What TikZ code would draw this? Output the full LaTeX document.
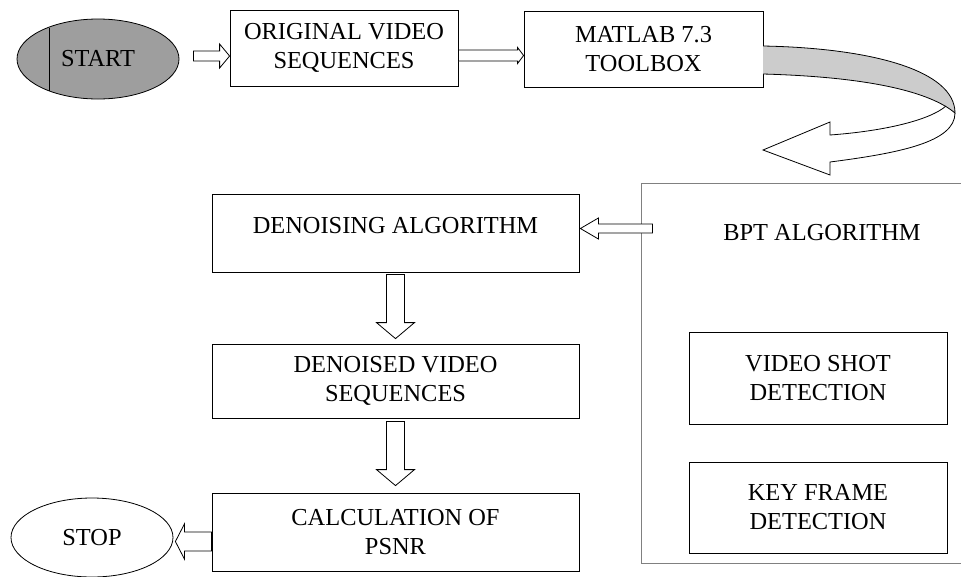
\documentclass[tikz,border=0pt]{standalone}
\usepackage{fontspec}
\setmainfont{Liberation Serif}
\usepackage{tikz}
\usetikzlibrary{calc,shapes.geometric}

\newcommand{\flowfont}{\fontsize{24.4}{29}\selectfont}
\tikzset{
  flowbox/.style={draw, line width=0.8pt, align=center, font=\flowfont, inner sep=2pt},
  termnode/.style={draw, ellipse, line width=0.8pt, font=\flowfont, minimum width=162pt, minimum height=80pt, inner sep=0pt},
  hollow/.style={draw, fill=white, line width=0.8pt, line join=miter},
}

% hollow block arrow: from, to, half shaft, half head, head length
\newcommand{\hollowarrow}[5]{%
  \path (#1) coordinate (ha-s) (#2) coordinate (ha-e);
  \path ($(ha-e)!#5!(ha-s)$) coordinate (ha-b);
  \draw[hollow] ($(ha-s)!#3!90:(ha-e)$) -- ($(ha-b)!#3!90:(ha-e)$)
    -- ($(ha-b)!#4!90:(ha-e)$) -- (ha-e) -- ($(ha-b)!#4!-90:(ha-e)$)
    -- ($(ha-b)!#3!-90:(ha-e)$) -- ($(ha-s)!#3!-90:(ha-e)$) -- cycle;
}

\begin{document}
\begin{tikzpicture}[x=1pt,y=-1pt]
    \useasboundingbox (0,0) rectangle (961,576);

    % top row
    \node[termnode, fill=black!38] (start) at (98,59) {START};
    \draw[line width=0.6pt] (49,27.5) -- (49,90.5);
    \node[flowbox, minimum width=228pt, minimum height=76pt] (orig) at (344,48) {ORIGINAL VIDEO\\SEQUENCES};
    \node[flowbox, minimum width=239pt, minimum height=76pt] (matlab) at (643.5,49) {MATLAB 7.3\\TOOLBOX};

    % BPT block on the right
    \node[draw=gray, line width=1pt, minimum width=330pt, minimum height=380pt] (bpt) at (806,373) {};
    \node[font=\flowfont] (bpttitle) at (822,233) {BPT ALGORITHM};
    \node[flowbox, minimum width=258pt, minimum height=92pt] (shot) at (818,378) {VIDEO SHOT\\DETECTION};
    \node[flowbox, minimum width=258pt, minimum height=91pt] (key) at (818,507.5) {KEY FRAME\\DETECTION};

    % left column
    \node[flowbox, minimum width=367pt, minimum height=78pt, text height=17pt, text depth=17pt] (den) at (395.5,233) {DENOISING ALGORITHM};
    \node[flowbox, minimum width=367pt, minimum height=74pt] (dvs) at (395.5,381) {DENOISED VIDEO\\SEQUENCES};
    \node[flowbox, minimum width=367pt, minimum height=78pt] (calc) at (395.5,532) {CALCULATION OF\\PSNR};
    \node[termnode, minimum height=79pt] (stop) at (92,537.5) {STOP};

    % block arrows
    \coordinate (a1) at ($(start.east)+(14,-3)$);
    \hollowarrow{a1}{orig.west |- a1}{5pt}{12pt}{10pt}
    \coordinate (a2) at ($(orig.east)+(0,7.5)$);
    \hollowarrow{a2}{matlab.west |- a2}{5.5pt}{8pt}{6pt}
    \coordinate (a3) at ($(den.east)+(1,-4.5)$);
    \coordinate (a3s) at ($(bpt.west |- a3)+(12,0)$);
    \hollowarrow{a3s}{a3}{4.5pt}{10.5pt}{18pt}
    \hollowarrow{[yshift=-2pt]den.south}{[yshift=5pt]dvs.north}{9pt}{19pt}{16pt}
    \hollowarrow{[yshift=-3pt]dvs.south}{[yshift=7pt]calc.north}{9pt}{19pt}{16pt}
    \coordinate (a6) at ($(calc.west)+(0,9.5)$);
    \coordinate (a6e) at ($(stop.east |- a6)+(2,0)$);
    \hollowarrow{a6}{a6e}{9.5pt}{17.5pt}{9pt}

    % curved ribbon arrow out of the toolbox
    \filldraw[fill=black!20, line width=0.8pt] (763,46) .. controls (870,48) and (955,70) .. (955,113)
        .. controls (930,92) and (870,77) .. (763,74);
    \draw[line width=0.8pt, line join=miter] (955,113) .. controls (955,142) and (900,153) .. (830,162)
        -- (830,175) -- (763,150) -- (830,122) -- (830,135)
        .. controls (885,131) and (930,120) .. (946,106);
\end{tikzpicture}
\end{document}
